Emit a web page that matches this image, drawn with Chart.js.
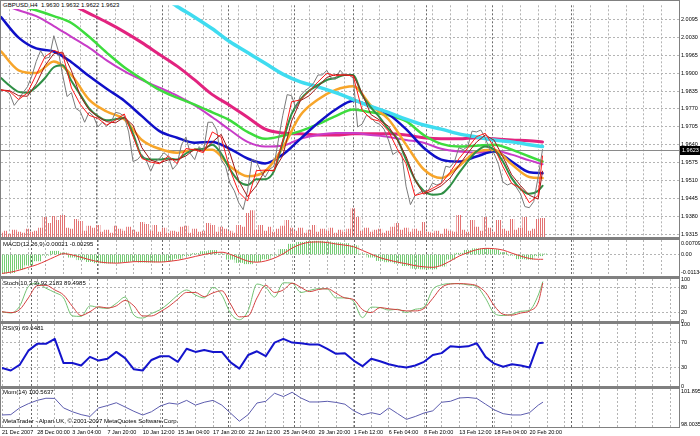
<!DOCTYPE html>
<html>
<head>
<meta charset="utf-8">
<title>GBPUSD,H4</title>
<script src="https://cdn.jsdelivr.net/npm/chart.js@4.4.1/dist/chart.umd.min.js"></script>
<style>
  body { margin: 0; background: #fff; }
  #wrap { position: relative; width: 700px; height: 436px; overflow: hidden; background: #fff;
          font-family: 'Liberation Sans', Arial, sans-serif; }
  #wrap canvas { position: absolute; left: 0; top: 0; }
  .rule { position: absolute; background: #808080; }
  .tag { position: absolute; left: 3px; font-size: 6px; line-height: 7px; color: #000; white-space: nowrap; }
</style>
</head>
<body>
<div id="wrap">
  <canvas id="cMain" width="700" height="436"></canvas>
  <canvas id="cMacd" width="700" height="436"></canvas>
  <canvas id="cStoch" width="700" height="436"></canvas>
  <canvas id="cRsi" width="700" height="436"></canvas>
  <canvas id="cMom" width="700" height="436"></canvas>

  <div class="rule" style="left:0;top:0;width:680px;height:1px"></div>
  <div class="rule" style="left:0;top:0;width:1px;height:428px"></div>
  <div class="rule" style="left:679px;top:0;width:1px;height:428px"></div>
  <div class="rule" style="left:0;top:237px;width:680px;height:3px"></div>
  <div class="rule" style="left:0;top:276px;width:680px;height:3px"></div>
  <div class="rule" style="left:0;top:321px;width:680px;height:3px"></div>
  <div class="rule" style="left:0;top:386px;width:680px;height:3px"></div>
  <div class="rule" style="left:0;top:427px;width:680px;height:1px"></div>

  <div class="tag" style="top:2px;background:#fff;padding-right:2px">GBPUSD,H4&nbsp;&nbsp;1.9630 1.9632 1.9622 1.9623</div>
  <div class="tag" style="top:241px">MACD(12,26,9) 0.00021 -0.00295</div>
  <div class="tag" style="top:280px">Stoch(10,3,3) 92.2183 89.4985</div>
  <div class="tag" style="top:325px">RSI(9) 69.6481</div>
  <div class="tag" style="top:389px">Mom(14) 100.5637</div>
  <div class="tag" style="top:418px">MetaTrader - Alpari UK, © 2001-2007 MetaQuotes Software Corp.</div>
</div>
<script>
// GBPUSD H4, 21 Dec 2007 - 21 Feb 2008.
// x is the bar number; one date label every 16 bars, grid every 8.

const X_MAX = 308;
const LAST_BAR = 246;

const xLabels = ['21 Dec 2007', '28 Dec 00:00', '3 Jan 04:00', '7 Jan 20:00', '10 Jan 12:00',
    '15 Jan 04:00', '17 Jan 20:00', '22 Jan 12:00', '25 Jan 04:00', '29 Jan 20:00',
    '1 Feb 12:00', '6 Feb 04:00', '8 Feb 20:00', '13 Feb 12:00', '18 Feb 04:00', '20 Feb 20:00'];

// darker period separators (bar numbers)
const weekBars = [13, 43, 73, 103, 133, 160, 193, 223, 259];

const priceTicks = [2.0095, 2.0030, 1.9965, 1.9900, 1.9835, 1.9770, 1.9705, 1.9640,
    1.9575, 1.9510, 1.9445, 1.9380, 1.9315];

// close, every 2 bars
const close = [
    1.9839, 1.9836, 1.9825, 1.9783, 1.9804, 1.9829, 1.9850, 1.9889, 1.9942, 1.9981,
    1.9953, 1.9957, 2.0035, 1.9981, 1.9893, 1.9815, 1.9829, 1.9772, 1.9761, 1.9722,
    1.9758, 1.9744, 1.9705, 1.9722, 1.9708, 1.9722, 1.9758, 1.9754, 1.9744, 1.9687,
    1.9580, 1.9587, 1.9605, 1.9584, 1.9545, 1.9580, 1.9591, 1.9612, 1.9598, 1.9552,
    1.9570, 1.9641, 1.9669, 1.9609, 1.9587, 1.9634, 1.9616, 1.9722, 1.9722, 1.9694,
    1.9587, 1.9563, 1.9502, 1.9474, 1.9431, 1.9406, 1.9474, 1.9587, 1.9580, 1.9545,
    1.9523, 1.9552, 1.9563, 1.9658, 1.9747, 1.9822, 1.9818, 1.9772, 1.9818, 1.9836,
    1.9847, 1.9864, 1.9893, 1.9893, 1.9910, 1.9882, 1.9878, 1.9910, 1.9893, 1.9893,
    1.9882, 1.9705, 1.9715, 1.9747, 1.9740, 1.9722, 1.9715, 1.9697, 1.9658, 1.9605,
    1.9616, 1.9609, 1.9491, 1.9424, 1.9456, 1.9467, 1.9474, 1.9474, 1.9502, 1.9495,
    1.9502, 1.9563, 1.9559, 1.9580, 1.9630, 1.9623, 1.9634, 1.9690, 1.9687, 1.9694,
    1.9665, 1.9623, 1.9609, 1.9570, 1.9506, 1.9495, 1.9502, 1.9488, 1.9463, 1.9417,
    1.9413, 1.9435, 1.9523, 1.9623];

// tick volume, every 2 bars
const volume = [
    160, 240, 120, 280, 200, 160, 320, 200, 240, 360,
    800, 560, 840, 680, 880, 360, 320, 720, 640, 240,
    440, 360, 480, 200, 280, 160, 440, 320, 240, 400,
    280, 200, 600, 520, 240, 480, 200, 360, 160, 240,
    200, 400, 440, 160, 320, 200, 240, 560, 480, 200,
    400, 320, 240, 160, 480, 400, 960, 1080, 280, 480,
    240, 400, 200, 320, 440, 680, 360, 240, 360, 160,
    280, 480, 200, 320, 240, 360, 160, 280, 200, 320,
    1160, 800, 240, 360, 200, 280, 320, 160, 240, 400,
    560, 280, 360, 200, 320, 240, 600, 200, 160, 240,
    120, 320, 240, 200, 880, 280, 200, 680, 400, 240,
    800, 360, 200, 680, 320, 240, 720, 280, 360, 800,
    240, 320, 720, 760];

// fast averages, every 4 bars
const maRed = [
    1.9839, 1.9833, 1.9804, 1.9828, 1.9894, 1.9959, 1.9982, 1.9970, 1.9846, 1.9787,
    1.9747, 1.9736, 1.9712, 1.9729, 1.9752, 1.9670, 1.9591, 1.9578, 1.9572, 1.9600,
    1.9573, 1.9627, 1.9622, 1.9612, 1.9687, 1.9668, 1.9551, 1.9469, 1.9437, 1.9547,
    1.9549, 1.9546, 1.9656, 1.9796, 1.9803, 1.9834, 1.9868, 1.9899, 1.9890, 1.9894,
    1.9889, 1.9767, 1.9734, 1.9726, 1.9690, 1.9626, 1.9572, 1.9457, 1.9466, 1.9483,
    1.9500, 1.9541, 1.9590, 1.9629, 1.9670, 1.9682, 1.9632, 1.9562, 1.9501, 1.9484,
    1.9431, 1.9457, 1.9600];
const maDarkRed = [
    1.9839, 1.9836, 1.9818, 1.9816, 1.9861, 1.9927, 1.9970, 1.9976, 1.9908, 1.9817,
    1.9767, 1.9742, 1.9724, 1.9720, 1.9740, 1.9711, 1.9630, 1.9585, 1.9575, 1.9586,
    1.9587, 1.9600, 1.9625, 1.9617, 1.9650, 1.9678, 1.9610, 1.9510, 1.9453, 1.9492,
    1.9548, 1.9548, 1.9601, 1.9726, 1.9800, 1.9818, 1.9851, 1.9884, 1.9895, 1.9892,
    1.9892, 1.9828, 1.9750, 1.9730, 1.9708, 1.9658, 1.9599, 1.9515, 1.9462, 1.9475,
    1.9492, 1.9520, 1.9566, 1.9610, 1.9650, 1.9676, 1.9657, 1.9597, 1.9532, 1.9493,
    1.9458, 1.9444, 1.9545];
const maDarkGreen = [
    1.9882, 1.9854, 1.9832, 1.9829, 1.9850, 1.9882, 1.9921, 1.9928, 1.9871, 1.9822,
    1.9772, 1.9744, 1.9729, 1.9733, 1.9737, 1.9680, 1.9598, 1.9587, 1.9587, 1.9591,
    1.9587, 1.9609, 1.9623, 1.9626, 1.9641, 1.9609, 1.9552, 1.9509, 1.9495, 1.9516,
    1.9516, 1.9545, 1.9651, 1.9751, 1.9804, 1.9836, 1.9857, 1.9875, 1.9882, 1.9893,
    1.9893, 1.9822, 1.9776, 1.9740, 1.9697, 1.9662, 1.9587, 1.9516, 1.9474, 1.9460,
    1.9463, 1.9492, 1.9538, 1.9580, 1.9616, 1.9634, 1.9623, 1.9580, 1.9520, 1.9481,
    1.9463, 1.9474, 1.9492];

// slow averages, every 8 bars
const maOrange = [
    1.9978, 1.9910, 1.9900, 1.9942, 1.9893, 1.9804, 1.9761, 1.9733, 1.9658, 1.9626,
    1.9612, 1.9623, 1.9623, 1.9563, 1.9527, 1.9545, 1.9630, 1.9747, 1.9804, 1.9839,
    1.9852, 1.9783, 1.9733, 1.9641, 1.9552, 1.9520, 1.9563, 1.9616, 1.9623, 1.9570,
    1.9524, 1.9520];
const maBlue = [
    2.0102, 2.0028, 1.9989, 1.9978, 1.9939, 1.9889, 1.9843, 1.9800, 1.9744, 1.9690,
    1.9666, 1.9648, 1.9651, 1.9626, 1.9591, 1.9573, 1.9605, 1.9662, 1.9719, 1.9768,
    1.9800, 1.9779, 1.9751, 1.9697, 1.9630, 1.9587, 1.9580, 1.9598, 1.9616, 1.9580,
    1.9541, 1.9538];
const maLightGreen = [
    2.0166, 2.0145, 2.0127, 2.0106, 2.0081, 2.0031, 1.9974, 1.9921, 1.9879, 1.9839,
    1.9811, 1.9786, 1.9758, 1.9729, 1.9687, 1.9662, 1.9673, 1.9690, 1.9715, 1.9744,
    1.9768, 1.9758, 1.9747, 1.9726, 1.9676, 1.9644, 1.9634, 1.9637, 1.9641, 1.9623,
    1.9598, 1.9580];
const maPurple = [
    2.0152, 2.0127, 2.0106, 2.0070, 2.0031, 1.9992, 1.9946, 1.9907, 1.9875, 1.9847,
    1.9818, 1.9783, 1.9740, 1.9694, 1.9651, 1.9634, 1.9637, 1.9662, 1.9676, 1.9683,
    1.9683, 1.9676, 1.9669, 1.9658, 1.9648, 1.9626, 1.9616, 1.9612, 1.9619, 1.9605,
    1.9584, 1.9570];
const maPink = [
    2.0273, 2.0244, 2.0212, 2.0180, 2.0148, 2.0116, 2.0084, 2.0049, 2.0010, 1.9967,
    1.9925, 1.9875, 1.9822, 1.9783, 1.9740, 1.9697, 1.9683, 1.9680, 1.9676, 1.9676,
    1.9680, 1.9680, 1.9680, 1.9676, 1.9666, 1.9662, 1.9662, 1.9666, 1.9662, 1.9658,
    1.9655, 1.9651];
const maCyan = [
    2.0539, 2.0500, 2.0461, 2.0422, 2.0383, 2.0344, 2.0305, 2.0266, 2.0226, 2.0184,
    2.0141, 2.0102, 2.0060, 2.0013, 1.9974, 1.9935, 1.9896, 1.9868, 1.9850, 1.9829,
    1.9804, 1.9779, 1.9758, 1.9733, 1.9712, 1.9697, 1.9680, 1.9669, 1.9658, 1.9651,
    1.9641, 1.9634];

// indicators, every 4 bars
const macdMain = [
    -0.0118, -0.0113, -0.0092, -0.0066, -0.0040, -0.0005, 0.0020, 0.0010, -0.0017, -0.0033,
    -0.0045, -0.0052, -0.0054, -0.0052, -0.0045, -0.0042, -0.0048, -0.0048, -0.0046, -0.0038,
    -0.0025, -0.0008, 0.0006, 0.0018, 0.0025, 0.0002, -0.0030, -0.0050, -0.0058, -0.0045,
    -0.0028, -0.0005, 0.0032, 0.0064, 0.0076, 0.0082, 0.0083, 0.0079, 0.0073, 0.0068,
    0.0055, 0.0002, -0.0017, -0.0038, -0.0046, -0.0055, -0.0070, -0.0087, -0.0091, -0.0090,
    -0.0073, -0.0030, 0.0008, 0.0026, 0.0036, 0.0037, 0.0030, 0.0012, -0.0005, -0.0027,
    -0.0030, -0.0008, 0.0002];
const macdSignal = [
    -0.0118, -0.0110, -0.0097, -0.0080, -0.0063, -0.0040, -0.0015, 0.0005, -0.0003, -0.0018,
    -0.0033, -0.0046, -0.0052, -0.0054, -0.0050, -0.0045, -0.0044, -0.0046, -0.0047, -0.0043,
    -0.0036, -0.0025, -0.0012, 0.0000, 0.0010, 0.0014, 0.0000, -0.0022, -0.0042, -0.0048,
    -0.0040, -0.0022, 0.0005, 0.0040, 0.0064, 0.0076, 0.0078, 0.0074, 0.0065, 0.0058,
    0.0048, 0.0025, 0.0002, -0.0020, -0.0035, -0.0048, -0.0058, -0.0070, -0.0077, -0.0080,
    -0.0067, -0.0040, -0.0010, 0.0012, 0.0030, 0.0038, 0.0036, 0.0027, 0.0008, -0.0010,
    -0.0025, -0.0030, -0.0030];
const stochMain = [
    22, 19, 35, 82, 90, 78, 68, 55, 12, 11,
    36, 32, 30, 42, 57, 14, 7, 18, 27, 43,
    62, 74, 62, 55, 80, 62, 18, 3, 25, 88,
    80, 57, 91, 90, 68, 73, 77, 76, 55, 55,
    46, 8, 33, 32, 26, 28, 20, 28, 33, 75,
    86, 89, 89, 86, 82, 54, 18, 13, 16, 23,
    26, 62, 93];
const stochSignal = [
    22, 20, 27, 55, 84, 85, 74, 62, 35, 13,
    22, 34, 31, 36, 49, 36, 12, 12, 22, 35,
    52, 68, 68, 58, 67, 72, 40, 10, 12, 55,
    85, 68, 74, 90, 80, 70, 75, 77, 66, 55,
    51, 27, 20, 32, 29, 27, 24, 24, 30, 54,
    80, 88, 89, 88, 84, 68, 36, 16, 14, 19,
    24, 45, 89.5];
const rsi = [
    29, 25, 34, 57, 68, 68, 76, 37, 37, 33,
    47, 41, 44, 55, 45, 27, 25, 42, 48, 48,
    39, 60, 55, 58, 55, 55, 38, 28, 50, 56,
    48, 70, 76, 70, 69, 67, 67, 60, 52, 53,
    41, 32, 44, 40, 35, 32, 30, 33, 39, 50,
    53, 64, 63, 64, 69, 47, 36, 31, 35, 33,
    30, 69, 69.65];
const momentum = [
    99.07, 99.11, 99.90, 100.40, 100.79, 101.04, 101.02, 99.90, 99.45, 99.11,
    98.89, 99.90, 100.18, 100.51, 100.01, 99.50, 99.06, 99.45, 100.12, 100.48,
    100.34, 100.79, 100.23, 100.57, 100.79, 100.23, 99.28, 98.33, 99.11, 100.48,
    100.68, 101.63, 101.24, 101.74, 101.07, 100.60, 100.60, 100.68, 100.55, 100.34,
    99.56, 99.07, 99.34, 99.11, 99.90, 99.22, 98.55, 98.89, 99.30, 99.56,
    100.57, 100.68, 101.07, 101.13, 101.02, 100.34, 99.67, 99.22, 99.07, 99.07,
    99.34, 100.23, 100.564];

const FONT = { family: "'Liberation Sans', Arial, sans-serif", size: 5.5 };
const GRID = '#b4b4b4';

const pts = (vals, step) => vals.map((v, i) => ({ x: Math.min(i * step, LAST_BAR), y: v }));

// MetaTrader draws histograms as 1px lines, so fill bars with vertical hatching
function stripes(color) {
    const c = document.createElement('canvas');
    c.width = 2; c.height = 1;
    const g = c.getContext('2d');
    g.fillStyle = color;
    g.fillRect(0, 0, 1, 1);
    return g.createPattern(c, 'repeat');
}

const line = (data, color, width, order, smooth) => ({
    type: 'line', data, borderColor: color, borderWidth: width, order,
    cubicInterpolationMode: smooth ? 'monotone' : 'default', tension: 0,
    pointRadius: 0, fill: false, yAxisID: 'y',
});

function xAxis(showLabels) {
    const gridBars = [];
    for (let b = 0; b < X_MAX; b += 8) gridBars.push(b);
    return {
        type: 'linear', min: 0, max: X_MAX, offset: false,
        grid: { color: GRID, lineWidth: 1, drawTicks: false },
        border: { display: false, dash: [2, 2] },
        ticks: {
            display: showLabels, autoSkip: false, maxRotation: 0, align: 'start',
            padding: 2, font: FONT, color: '#000',
            callback: (v) => (v % 16 === 0 ? (xLabels[v / 16] || '') : ''),
        },
        afterBuildTicks: (s) => { s.ticks = gridBars.map(v => ({ value: v })); },
        afterFit: (s) => { s.height = showLabels ? 9 : 0; },
    };
}

function yAxis(min, max, ticks, texts, levels) {
    return {
        position: 'right', min, max,
        grid: { color: (c) => (levels.includes(c.tick.value) ? GRID : 'rgba(0,0,0,0)'), drawTicks: false },
        border: { display: false, dash: [2, 2] },
        ticks: { autoSkip: false, padding: 2, font: FONT, color: '#000', callback: (v, i) => texts[i] },
        afterBuildTicks: (s) => { s.ticks = ticks.map(v => ({ value: v })); },
        afterFit: (s) => { s.width = 21; },
    };
}

const separators = {
    id: 'separators',
    beforeDatasetsDraw(chart) {
        const { ctx, chartArea: a, scales: { x } } = chart;
        ctx.save();
        ctx.strokeStyle = '#6a6a6a';
        ctx.lineWidth = 1;
        ctx.setLineDash([2, 2]);
        weekBars.forEach(b => {
            const px = Math.round(x.getPixelForValue(b)) + 0.5;
            ctx.beginPath();
            ctx.moveTo(px, a.top);
            ctx.lineTo(px, a.bottom);
            ctx.stroke();
        });
        ctx.restore();
    },
};

// bid line across the price window and the black price box on the axis
const bid = {
    id: 'bid',
    beforeDatasetsDraw(chart) {
        const { ctx, chartArea: a } = chart;
        const y = Math.round(chart.scales.y.getPixelForValue(close[close.length - 1])) + 0.5;
        ctx.save();
        ctx.strokeStyle = '#8a8a8a';
        ctx.lineWidth = 1;
        ctx.beginPath();
        ctx.moveTo(a.left, y);
        ctx.lineTo(a.right, y);
        ctx.stroke();
        ctx.restore();
    },
    afterDraw(chart) {
        const { ctx, chartArea: a } = chart;
        const last = close[close.length - 1];
        const y = chart.scales.y.getPixelForValue(last);
        ctx.save();
        ctx.fillStyle = '#000';
        ctx.fillRect(a.right + 1, Math.round(y) - 4, 700 - a.right, 9);
        ctx.fillStyle = '#fff';
        ctx.font = `${FONT.size}px ${FONT.family}`;
        ctx.textBaseline = 'middle';
        ctx.fillText(last.toFixed(4), a.right + 3, Math.round(y) + 0.5);
        ctx.restore();
    },
};

function panel(id, padTop, padBottom, datasets, y, extraScales, showX, plugins) {
    return new Chart(document.getElementById(id), {
        type: 'line',
        data: { datasets },
        options: {
            responsive: false, animation: false, devicePixelRatio: 1, events: [],
            layout: { autoPadding: false, padding: { left: 1, right: 0, top: padTop, bottom: padBottom } },
            plugins: { legend: { display: false }, tooltip: { enabled: false } },
            elements: { point: { radius: 0 }, line: { borderJoinStyle: 'round', borderCapStyle: 'round' } },
            scales: Object.assign({ x: xAxis(showX), y }, extraScales || {}),
        },
        plugins: [separators].concat(plugins || []),
    });
}

panel('cMain', 1, 199, [
    line(pts(maRed, 4), '#ff1a1a', 1, 0, false),
    line(pts(maDarkRed, 4), '#a01818', 1, 1, false),
    line(pts(close, 2), '#7a7a7a', 1, 2, false),
    line(pts(maDarkGreen, 4), '#2f8f45', 2, 3, true),
    line(pts(maCyan, 8), '#3fdcf0', 3.5, 4, true),
    line(pts(maOrange, 8), '#f7a52a', 2.5, 5, true),
    line(pts(maBlue, 8), '#1010c8', 2.5, 6, true),
    line(pts(maLightGreen, 8), '#3ddc3d', 2.5, 7, true),
    line(pts(maPurple, 8), '#c83cc8', 2, 8, true),
    line(pts(maPink, 8), '#e2237f', 3, 9, true),
    {
        type: 'bar', data: pts(volume, 2), yAxisID: 'yv', order: 10,
        backgroundColor: stripes('#e27272'), barThickness: 4.4,
    },
], yAxis(1.9307, 2.0145, priceTicks, priceTicks.map(v => v.toFixed(4)), priceTicks),
{ yv: { display: false, min: 0, max: 9440 } }, false, [bid]);

panel('cMacd', 240, 160, [
    line(pts(macdSignal, 4), '#e03a3a', 1, 0, true),
    {
        type: 'bar', data: pts(macdMain, 4), yAxisID: 'y', order: 1,
        backgroundColor: stripes('#74cc74'), barThickness: 8.8,
    },
], yAxis(-0.0134, 0.0090, [0.00709, 0, -0.01134], ['0.00709', '0.00', '-0.01134'], [0]));

panel('cStoch', 279, 115, [
    line(pts(stochSignal, 4), '#d24040', 1, 0, true),
    line(pts(stochMain, 4), '#72c272', 1, 1, true),
], yAxis(0, 100, [100, 80, 20, 0], ['100', '80', '20', '0'], [80, 20]));

panel('cRsi', 324, 50, [
    line(pts(rsi, 4), '#1414cc', 2, 0, false),
], yAxis(0, 100, [100, 70, 30, 0], ['100', '70', '30', '0'], [70, 30]));

panel('cMom', 389, 0, [
    line(pts(momentum, 4), '#5c5cae', 1, 0, false),
], yAxis(97.650, 102.131, [101.895, 98.0035], ['101.895', '98.0035'], []), null, true);
</script>
</body>
</html>
